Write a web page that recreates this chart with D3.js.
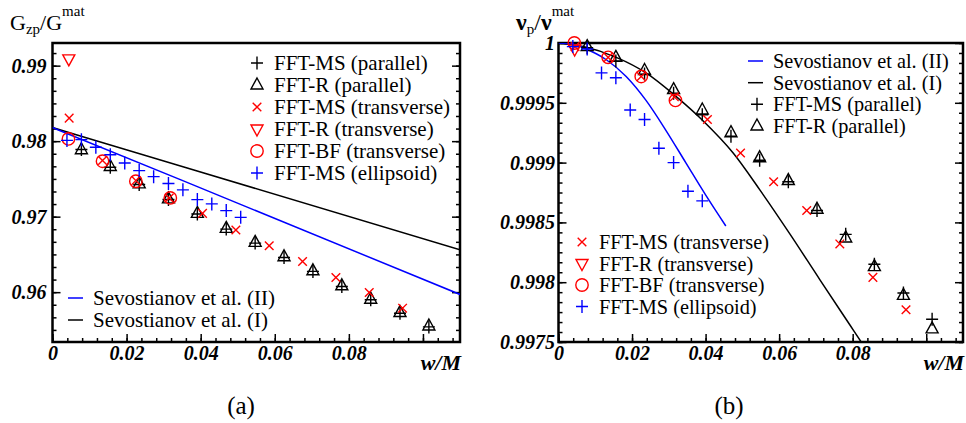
<!DOCTYPE html>
<html lang="en">
<head>
<meta charset="utf-8">
<script src="https://d3js.org/d3.v7.min.js"></script>
<style>
  body { margin: 0; background: #fff; }
  svg { display: block; font-family: "Liberation Serif", "Times New Roman", Times, "DejaVu Serif", serif; }
  .tick text { font-family: "Liberation Serif", "Times New Roman", Times, "DejaVu Serif", serif; font-size: 20px; font-weight: bold; font-style: italic; fill: #000; }
  .tick line { stroke: #000; stroke-width: 1.5; }
  .leg { font-size: 21px; fill: #000; }
  .leg.small { font-size: 20.3px; }
</style>
</head>
<body>
<svg width="966" height="423"></svg>
<script>
// tick labels
var xTicks = [0, 0.02, 0.04, 0.06, 0.08, 0.1];
var xTickLabels = ["0", "0.02", "0.04", "0.06", "0.08", ""];
var gTicks = [0.96, 0.97, 0.98, 0.99];
var gTickLabels = ["0.96", "0.97", "0.98", "0.99"];
var nuTicks = [0.9975, 0.998, 0.9985, 0.999, 0.9995, 1];
var nuTickLabels = ["0.9975", "0.998", "0.9985", "0.999", "0.9995", "1"];

// w/M positions of the series
var wPar = [0.0078, 0.0156, 0.0234, 0.0313, 0.0391, 0.0469, 0.0547, 0.0625, 0.0703, 0.0781, 0.0859, 0.0938, 0.1016];
var wTr = [0.0045, 0.0135, 0.0225, 0.0315, 0.0405, 0.0495, 0.0585, 0.0675, 0.0765, 0.0855, 0.0945];
var wRTr = [0.0044];
var wBf = [0.0043, 0.0135, 0.0225, 0.0318];
var wEll = [0.0039, 0.0078, 0.0117, 0.0156, 0.0195, 0.0234, 0.0273, 0.0313, 0.0352, 0.0391, 0.043, 0.0469, 0.0508];

// (a) G_zp / G^mat
var gMsPar = [0.9789, 0.97655, 0.97425, 0.97228, 0.97035, 0.96835, 0.9665, 0.9646, 0.96275, 0.96075, 0.959, 0.9572, 0.9554];
var gRPar = [0.97886, 0.97664, 0.97434, 0.97235, 0.97044, 0.96845, 0.96659, 0.96469, 0.96283, 0.96084, 0.95907, 0.9573, 0.95552];
var gMsTr = [0.98305, 0.97744, 0.97478, 0.97248, 0.97044, 0.96823, 0.96615, 0.96407, 0.96195, 0.95996, 0.95788];
var gRTr = [0.9909];
var gBf = [0.9803, 0.97734, 0.97469, 0.97248];
var gMsEll = [0.9801, 0.9802, 0.9792, 0.9782, 0.9771, 0.9761, 0.9753, 0.9744, 0.97355, 0.97226, 0.97169, 0.9708, 0.96991];
var wSevA = [0, 0.035, 0.11];
var gSevI = [0.9818, 0.97665, 0.9656];
var gSevII = [0.9818, 0.9748, 0.9597];

// (b) nu_p / nu^mat
var nuMsPar = [0.99996, 0.99985, 0.99974, 0.99958, 0.9994, 0.99922, 0.99902, 0.99884, 0.9986, 0.9984, 0.99815, 0.99791, 0.99769];
var nuRPar = [0.99997, 0.99988, 0.99977, 0.99961, 0.99944, 0.99925, 0.99904, 0.99885, 0.99861, 0.99837, 0.99813, 0.99789, 0.99761];
var nuMsTr = [0.99997, 0.99988, 0.99972, 0.99955, 0.99936, 0.99908, 0.99884, 0.9986, 0.99832, 0.99804, 0.99777];
var nuRTr = [0.99995];
var nuBf = [1.0, 0.99988, 0.99972, 0.99952];
var nuMsEll = [0.99997, 0.99995, 0.99975, 0.99971, 0.99944, 0.99936, 0.99912, 0.999, 0.99876, 0.99868];
var wSevBI = [0, 0.0067, 0.0157, 0.0238, 0.0317, 0.0393, 0.0475, 0.0548, 0.063, 0.0711, 0.0793, 0.0834];
var nuSevI = [1.0, 0.99997, 0.99988, 0.99975, 0.99956, 0.99935, 0.99908, 0.99877, 0.9984, 0.99802, 0.99764, 0.99745];
var wSevBII = [0, 0.004, 0.0067, 0.013, 0.0184, 0.0238, 0.0292, 0.0346, 0.04, 0.0455];
var nuSevII = [1.0, 0.99999, 0.99996, 0.99986, 0.99972, 0.99952, 0.99927, 0.999, 0.99873, 0.99847];

var RED = "#ff0000", BLUE = "#0000ff", BLACK = "#000";

var svg = d3.select("svg");

// draws one marker
function mark(g, type, cx, cy, color) {
   var p = g.append("path")
      .attr("transform", "translate(" + cx + "," + cy + ")")
      .attr("fill", "none")
      .attr("stroke", color)
      .attr("stroke-width", 1.4);
   if (type == "plus") p.attr("d", "M-6,0H6M0,-6.5V6.5");
   else if (type == "tri") p.attr("d", "M0,-7L6,4H-6Z");
   else if (type == "tridown") p.attr("d", "M0,7L6,-4H-6Z");
   else if (type == "cross") p.attr("d", "M-4.3,-4.3L4.3,4.3M-4.3,4.3L4.3,-4.3");
   else if (type == "circle") p.attr("d", d3.symbol(d3.symbolCircle, Math.PI * 6.2 * 6.2)());
}

function series(g, x, y, ws, vs, type, color) {
   ws.forEach(function (w, i) { mark(g, type, x(w), y(vs[i]), color); });
}

function curve(g, x, y, ws, vs, color, clip) {
   var pts = ws.map(function (w, i) { return [w, vs[i]]; });
   g.append("path")
      .attr("clip-path", "url(#" + clip + ")")
      .attr("fill", "none")
      .attr("stroke", color)
      .attr("stroke-width", 1.5)
      .attr("d", d3.line()
         .x(function (d) { return x(d[0]); })
         .y(function (d) { return y(d[1]); })
         .curve(d3.curveMonotoneX)(pts));
}

// frame + inward ticks on bottom, left, right
function axes(x, y, yTicks, yLabels, yMinorStep, yPad, id) {
   var x0 = x.range()[0], x1 = x.range()[1], y0 = y.range()[1], y1 = y.range()[0];
   var xMinor = d3.range(0, x.domain()[1] + 1e-9, 0.004);
   var yMinor = d3.range(yTicks[0] - 6 * yMinorStep, y.domain()[1] + 1e-9, yMinorStep)
      .filter(function (v) { return v >= y.domain()[0]; });

   svg.append("clipPath").attr("id", id)
      .append("rect").attr("x", x0).attr("y", y0).attr("width", x1 - x0).attr("height", y1 - y0);

   function clean(g) { g.select(".domain").remove(); g.attr("font-family", null); }

   svg.append("g").attr("transform", "translate(0," + y1 + ")")
      .call(d3.axisBottom(x).tickValues(xMinor).tickSize(-4).tickFormat("")).call(clean);
   svg.append("g").attr("transform", "translate(0," + y1 + ")")
      .call(d3.axisBottom(x).tickValues(xTicks).tickSize(-8).tickPadding(4)
         .tickFormat(function (d, i) { return xTickLabels[i]; })).call(clean);

   svg.append("g").attr("transform", "translate(" + x0 + ",0)")
      .call(d3.axisLeft(y).tickValues(yMinor).tickSize(-4).tickFormat("")).call(clean);
   svg.append("g").attr("transform", "translate(" + x0 + ",0)")
      .call(d3.axisLeft(y).tickValues(yTicks).tickSize(-8).tickPadding(yPad)
         .tickFormat(function (d, i) { return yLabels[i]; })).call(clean);

   svg.append("g").attr("transform", "translate(" + x1 + ",0)")
      .call(d3.axisRight(y).tickValues(yMinor).tickSize(-4).tickFormat("")).call(clean);
   svg.append("g").attr("transform", "translate(" + x1 + ",0)")
      .call(d3.axisRight(y).tickValues(yTicks).tickSize(-8).tickFormat("")).call(clean);

   svg.append("rect")
      .attr("x", x0).attr("y", y0).attr("width", x1 - x0).attr("height", y1 - y0)
      .attr("fill", "none").attr("stroke", "#000").attr("stroke-width", 2.5);

   svg.append("text")
      .attr("x", x1 + 1).attr("y", 370)
      .attr("text-anchor", "end")
      .attr("font-size", "22px").attr("font-weight", "bold").attr("font-style", "italic")
      .text("w/M");
}

function legendRow(g, type, color, sx, tx, base, label, cls) {
   if (type == "line") {
      g.append("line").attr("x1", sx - 8).attr("x2", sx + 7)
         .attr("y1", base - 7).attr("y2", base - 7)
         .attr("stroke", color).attr("stroke-width", 1.5);
   } else {
      mark(g, type, sx, base - 7, color);
   }
   g.append("text").attr("class", cls || "leg").attr("x", tx).attr("y", base).text(label);
}

// ---------------- panel (a) ----------------
var xa = d3.scaleLinear().domain([0, 0.11]).range([52.5, 460]);
var ya = d3.scaleLinear().domain([0.9534, 0.993]).range([342, 43]);

axes(xa, ya, gTicks, gTickLabels, 0.01 / 6, 6, "clipA");

var ga = svg.append("g");
curve(ga, xa, ya, wSevA, gSevI, BLACK, "clipA");
curve(ga, xa, ya, wSevA, gSevII, BLUE, "clipA");
series(ga, xa, ya, wPar, gMsPar, "plus", BLACK);
series(ga, xa, ya, wPar, gRPar, "tri", BLACK);
series(ga, xa, ya, wTr, gMsTr, "cross", RED);
series(ga, xa, ya, wRTr, gRTr, "tridown", RED);
series(ga, xa, ya, wBf, gBf, "circle", RED);
series(ga, xa, ya, wEll, gMsEll, "plus", BLUE);

var la = svg.append("g");
legendRow(la, "plus", BLACK, 257, 274, 70, "FFT-MS (parallel)");
legendRow(la, "tri", BLACK, 257, 274, 92, "FFT-R (parallel)");
legendRow(la, "cross", RED, 257, 274, 114, "FFT-MS (transverse)");
legendRow(la, "tridown", RED, 257, 274, 136, "FFT-R (transverse)");
legendRow(la, "circle", RED, 257, 274, 158, "FFT-BF (transverse)");
legendRow(la, "plus", BLUE, 257, 274, 180, "FFT-MS (ellipsoid)");
legendRow(la, "line", BLUE, 76, 93, 305, "Sevostianov et al. (II)");
legendRow(la, "line", BLACK, 76, 93, 327, "Sevostianov et al. (I)");

var ta = svg.append("text").attr("x", 10).attr("y", 30).attr("font-size", "22px");
ta.append("tspan").text("G");
ta.append("tspan").attr("font-size", "15px").attr("dy", 4).text("zp");
ta.append("tspan").attr("dy", -4).text("/G");
ta.append("tspan").attr("font-size", "15px").attr("dy", -14).text("mat");

// ---------------- panel (b) ----------------
var xb = d3.scaleLinear().domain([0, 0.11]).range([558.5, 963]);
var yb = d3.scaleLinear().domain([0.9975, 1]).range([342, 43]);

axes(xb, yb, nuTicks, nuTickLabels, 0.0005 / 6, 3.5, "clipB");

var gb = svg.append("g");
curve(gb, xb, yb, wSevBI, nuSevI, BLACK, "clipB");
curve(gb, xb, yb, wSevBII, nuSevII, BLUE, "clipB");
series(gb, xb, yb, wPar, nuMsPar, "plus", BLACK);
series(gb, xb, yb, wPar, nuRPar, "tri", BLACK);
series(gb, xb, yb, wTr, nuMsTr, "cross", RED);
series(gb, xb, yb, wRTr, nuRTr, "tridown", RED);
series(gb, xb, yb, wBf, nuBf, "circle", RED);
series(gb, xb, yb, wEll.slice(0, nuMsEll.length), nuMsEll, "plus", BLUE);

var lb = svg.append("g");
legendRow(lb, "line", BLUE, 756, 773, 68, "Sevostianov et al. (II)", "leg small");
legendRow(lb, "line", BLACK, 756, 773, 89.7, "Sevostianov et al. (I)", "leg small");
legendRow(lb, "plus", BLACK, 757, 773, 111.3, "FFT-MS (parallel)", "leg small");
legendRow(lb, "tri", BLACK, 757, 773, 133, "FFT-R (parallel)", "leg small");
legendRow(lb, "cross", RED, 582, 599, 249, "FFT-MS (transverse)", "leg small");
legendRow(lb, "tridown", RED, 582, 599, 270.5, "FFT-R (transverse)", "leg small");
legendRow(lb, "circle", RED, 582, 599, 292, "FFT-BF (transverse)", "leg small");
legendRow(lb, "plus", BLUE, 582, 599, 313.5, "FFT-MS (ellipsoid)", "leg small");

var tb = svg.append("text").attr("x", 516).attr("y", 30).attr("font-size", "24px");
tb.append("tspan").attr("font-weight", "bold").text("ν");
tb.append("tspan").attr("font-size", "15px").attr("dy", 4).text("p");
tb.append("tspan").attr("dy", -4).text("/");
tb.append("tspan").attr("font-weight", "bold").text("ν");
tb.append("tspan").attr("font-size", "15px").attr("dy", -14).text("mat");

// captions
svg.append("text").attr("x", 241).attr("y", 414).attr("text-anchor", "middle")
   .attr("font-size", "25px").text("(a)");
svg.append("text").attr("x", 729).attr("y", 414).attr("text-anchor", "middle")
   .attr("font-size", "25px").text("(b)");
</script>
</body>
</html>
